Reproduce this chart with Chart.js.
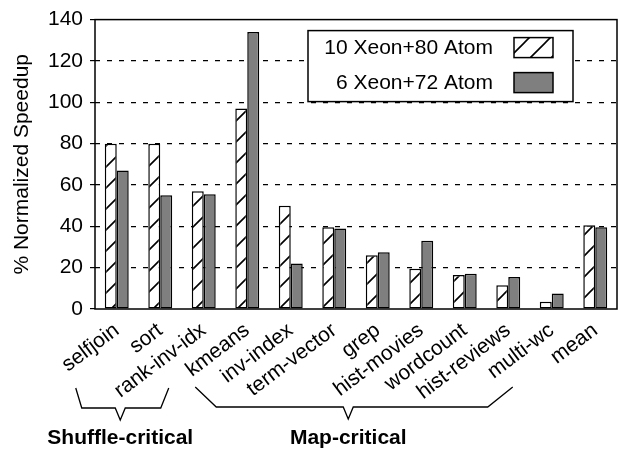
<!DOCTYPE html>
<html>
<head>
<meta charset="utf-8">
<script src="https://cdn.jsdelivr.net/npm/chart.js@4.4.0/dist/chart.umd.min.js"></script>
<style>
  html, body { margin: 0; padding: 0; background: #fff; }
  #wrap { width: 619px; height: 452px; }
</style>
</head>
<body>
<div id="wrap"><canvas id="chart" width="619" height="452"></canvas></div>
<script>
// data
const categories = ['selfjoin', 'sort', 'rank-inv-idx', 'kmeans', 'inv-index', 'term-vector',
  'grep', 'hist-movies', 'wordcount', 'hist-reviews', 'multi-wc', 'mean'];
const seriesNames = ['10 Xeon+80 Atom', '6 Xeon+72 Atom'];
const xeon10atom80 = [80, 80, 57, 97, 50, 39.5, 26, 19.5, 16.5, 11.5, 3.5, 40.5];
const xeon6atom72 = [67, 55, 55.5, 134, 22, 39, 27.5, 33, 17, 15.5, 7.5, 39.5];
const yTicks = [0, 20, 40, 60, 80, 100, 120, 140];
const groupNames = ['Shuffle-critical', 'Map-critical'];
const groupFirst = [0, 3];
const groupLast = [2, 10];

const FONT = '"Liberation Sans", Arial, Helvetica, sans-serif';
const FONT_SIZE = 21;
const GRAY = '#7f7f7f';

// diagonal hatch used for the first series
function makeHatch() {
  const size = 21;
  const c = document.createElement('canvas');
  c.width = size; c.height = size;
  const g = c.getContext('2d');
  g.fillStyle = '#fff';
  g.fillRect(0, 0, size, size);
  g.strokeStyle = '#000';
  g.lineWidth = 1.6;
  g.beginPath();
  g.moveTo(-2, size + 2); g.lineTo(size + 2, -2);
  g.moveTo(-2, 2); g.lineTo(2, -2);
  g.moveTo(size - 2, size + 2); g.lineTo(size + 2, size - 2);
  g.stroke();
  return g.createPattern(c, 'repeat');
}
const hatch = makeHatch();

// frame, legend box and group braces
const decorPlugin = {
  id: 'decor',
  afterDatasetsDraw(chart) {
    const { ctx, chartArea: a } = chart;
    ctx.save();
    ctx.strokeStyle = '#000';
    ctx.lineWidth = 1.5;
    ctx.strokeRect(a.left, a.top, a.right - a.left, a.bottom - a.top);
    ctx.restore();
  },
  afterDraw(chart) {
    const { ctx, chartArea: a } = chart;
    const xs = chart.scales.x;

    // legend
    const bx = a.right - 309, by = a.top + 11, bw = 265, bh = 71;
    ctx.save();
    ctx.fillStyle = '#fff';
    ctx.fillRect(bx, by, bw, bh);
    ctx.strokeStyle = '#000';
    ctx.lineWidth = 1.5;
    ctx.strokeRect(bx, by, bw, bh);
    ctx.font = FONT_SIZE + 'px ' + FONT;
    ctx.textAlign = 'right';
    ctx.textBaseline = 'middle';
    chart.data.datasets.forEach((ds, i) => {
      const cy = by + 17 + i * 35;
      ctx.fillStyle = '#000';
      ctx.fillText(ds.label, bx + 185, cy + 1);
      ctx.fillStyle = ds.backgroundColor;
      ctx.fillRect(bx + 206, cy - 10, 39, 20);
      ctx.strokeRect(bx + 206, cy - 10, 39, 20);
    });

    // braces under the category labels
    const geom = [
      { l0: -41, l1: -35, tip: 3.5, r1: -43, r0: -35, top: 388, bot: 408 },
      { l0: -52, l1: -31, tip: 101, r1: -64, r0: -39, top: 387, bot: 407 }
    ];
    ctx.lineWidth = 1.3;
    groupNames.forEach((name, i) => {
      const f = xs.getPixelForTick(groupFirst[i]);
      const l = xs.getPixelForTick(groupLast[i]);
      const g = geom[i];
      const tx = f + g.tip;
      ctx.beginPath();
      ctx.moveTo(f + g.l0, g.top);
      ctx.lineTo(f + g.l1, g.bot);
      ctx.lineTo(tx - 5, g.bot);
      ctx.lineTo(tx, g.bot + 12);
      ctx.lineTo(tx + 5, g.bot);
      ctx.lineTo(l + g.r1, g.bot);
      ctx.lineTo(l + g.r0, g.top);
      ctx.stroke();
      ctx.fillStyle = '#000';
      ctx.font = 'bold ' + FONT_SIZE + 'px ' + FONT;
      ctx.textAlign = 'center';
      ctx.fillText(name, tx, 438);
    });
    ctx.restore();
  }
};

new Chart(document.getElementById('chart'), {
  type: 'bar',
  data: {
    labels: categories,
    datasets: [
      {
        label: seriesNames[0],
        data: xeon10atom80,
        backgroundColor: hatch,
        borderColor: '#000',
        borderWidth: 1.5,
        borderSkipped: false
      },
      {
        label: seriesNames[1],
        data: xeon6atom72,
        backgroundColor: GRAY,
        borderColor: '#000',
        borderWidth: 1.5,
        borderSkipped: false
      }
    ]
  },
  options: {
    responsive: false,
    animation: false,
    devicePixelRatio: 1,
    layout: { padding: { top: 11, right: 2, left: 0, bottom: 0 } },
    categoryPercentage: 0.55,
    barPercentage: 1.0,
    plugins: {
      legend: { display: false },
      tooltip: { enabled: false }
    },
    scales: {
      x: {
        grid: { display: false, drawTicks: false },
        border: { display: false },
        ticks: {
          color: '#000',
          font: { family: FONT, size: FONT_SIZE },
          minRotation: 37,
          maxRotation: 37,
          autoSkip: false,
          padding: 9
        },
        afterFit(scale) {
          scale.height = 143;
          scale.paddingLeft = 0;
          scale.paddingRight = 0;
        }
      },
      y: {
        min: 0,
        max: 140,
        afterBuildTicks(scale) {
          scale.ticks = yTicks.map(v => ({ value: v }));
        },
        grid: {
          color: c => (c.tick && (c.tick.value === 0 || c.tick.value === 140)) ? 'rgba(0,0,0,0)' : '#000',
          lineWidth: 1.2,
          tickColor: '#000',
          tickLength: 5,
          tickWidth: 1.2
        },
        border: { display: false, dash: [5, 7] },
        ticks: {
          color: '#000',
          font: { family: FONT, size: FONT_SIZE },
          padding: 7
        },
        title: {
          display: true,
          text: '% Normalized Speedup',
          color: '#000',
          font: { family: FONT, size: FONT_SIZE },
          padding: { top: 10, bottom: 0 }
        },
        afterFit(scale) {
          scale.width = 95;
        }
      }
    }
  },
  plugins: [decorPlugin]
});
</script>
</body>
</html>
